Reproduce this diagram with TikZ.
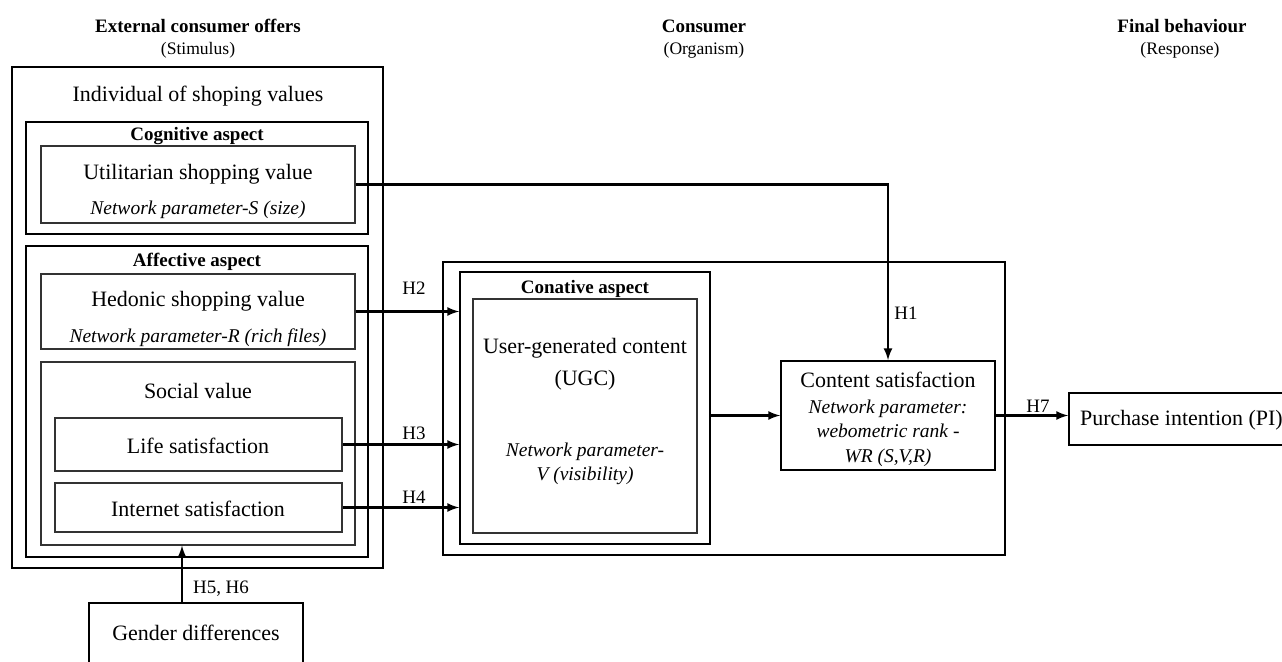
\documentclass[tikz,border=0pt]{standalone}
\usepackage{fontspec}
\setmainfont{Liberation Serif}
\usetikzlibrary{arrows,fit}

\tikzset{
  thickbox/.style={draw, line width=1.1pt, inner sep=0pt},
  thinbox/.style={draw=black!80, line width=0.7pt, inner sep=0pt},
  big/.style={font=\fontsize{12.5}{15}\selectfont},
  par/.style={font=\fontsize{11.1}{14}\selectfont\itshape},
  head/.style={font=\fontsize{10.8}{12}\selectfont\bfseries},
  sub/.style={font=\fontsize{10}{12}\selectfont},
  hyp/.style={font=\fontsize{10.8}{12}\selectfont},
  arr/.style={-latex, line width=1.3pt}
}

\begin{document}
\begin{tikzpicture}[x=0.02cm,y=-0.02cm]
	\useasboundingbox (0,0) rectangle (1282,662);
	\clip (0,0) rectangle (1282,662);
	% column titles
	\node[head] (tstim) at (198,26) {External consumer offers};
	\node[sub] (sstim) at (198,50) {(Stimulus)};
	\node[head] (torg) at (704,26) {Consumer};
	\node[sub] (sorg) at (704,50) {(Organism)};
	\node[head] (tresp) at (1182,26) {Final behaviour};
	\node[sub] (sresp) at (1180,50) {(Response)};

	% stimulus side
	\node[thickbox, fit={(12,67) (383,568)}] (stim) {};
	\node[big] (tind) at (198,96) {Individual of shoping values};
	\node[thickbox, fit={(26,122) (368,234)}] (cog) {};
	\node[head] (tcog) at (197,136) {Cognitive aspect};
	\node[thinbox, fit={(41,146) (355,223)}] (util) {};
	\node[big] at (198,174) {Utilitarian shopping value};
	\node[par] at (198,210) {Network parameter-S (size)};
	\node[thickbox, fit={(26,246) (368,557)}] (aff) {};
	\node[head] (taff) at (197,262) {Affective aspect};
	\node[thinbox, fit={(41,274) (355,349)}] (hed) {};
	\node[big] at (198,301) {Hedonic shopping value};
	\node[par] at (198,338) {Network parameter-R (rich files)};
	\node[thinbox, fit={(41,362) (355,545)}] (soc) {};
	\node[big] at (198,391) {Social value};
	\node[thinbox, fit={(55,418) (342,471)}] (life) {};
	\node[big] at (198,446) {Life satisfaction};
	\node[thinbox, fit={(55,483) (342,532)}] (inet) {};
	\node[big] at (198,509) {Internet satisfaction};
	\node[thickbox, fit={(89,603) (303,690)}] (gen) {};
	\node[big] at (196,633) {Gender differences};

	% organism side
	\node[thickbox, fit={(443,262) (1005,555)}] (org) {};
	\node[thickbox, fit={(460,272) (710,544)}] (con) {};
	\node[head] (tcon) at (585,289) {Conative aspect};
	\node[thinbox, fit={(473,299) (697,533)}] (ugc) {};
	\node[big, align=center] at (585,364) {User-generated content\\[3pt](UGC)};
	\node[par, align=center] at (585,464) {Network parameter-\\V (visibility)};
	\node[thickbox, fit={(781,361) (995,470)}] (cs) {};
	\node[big] at (888,380) {Content satisfaction};
	\node[par, align=center] at (888,433) {Network parameter:\\webometric rank -\\WR (S,V,R)};

	% response side
	\node[thickbox, fit={(1069,393) (1300,445)}] (pi) {};
	\node[big, anchor=west] at (1074,420) {Purchase intention (PI)};

	% hypotheses
	\draw[arr] (util.east) -| (cs.north);
	\draw[arr] (hed.east) -- (hed.east -| con.west);
	\draw[arr] (life.east) -- (life.east -| con.west);
	\draw[arr] (inet.east) -- (inet.east -| con.west);
	\draw[arr] (cs.west -| con.east) -- (cs.west);
	\draw[arr] (cs.east) -- (cs.east -| pi.west);
	\draw[arr] ([xshift=-0.28cm]gen.north) -- ([xshift=-0.28cm]gen.north |- soc.south);
	\node[hyp] (h1) at (906,313) {H1};
	\node[hyp] (h2) at (414,288) {H2};
	\node[hyp] (h3) at (414,433) {H3};
	\node[hyp] (h4) at (414,497) {H4};
	\node[hyp] (h56) at (221,589) {H5, H6};
	\node[hyp] (h7) at (1038,406) {H7};
\end{tikzpicture}
\end{document}
